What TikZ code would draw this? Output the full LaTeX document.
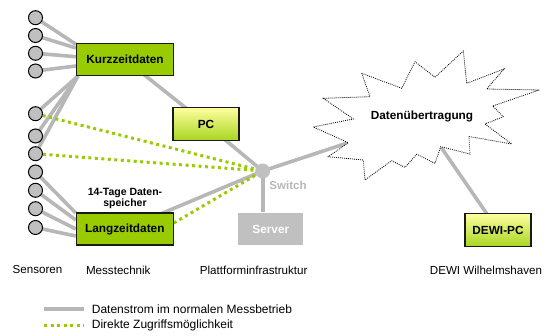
\documentclass[tikz,border=0pt]{standalone}
\usepackage{fontspec}
\setmainfont{Liberation Sans}
\usetikzlibrary{calc}
\pgfdeclarelayer{bg}
\pgfsetlayers{bg,main}
\definecolor{grn}{HTML}{99CC00}
\definecolor{lgray}{HTML}{B7B7B7}
\definecolor{fgray}{HTML}{C0C0C0}
\definecolor{pcTop}{HTML}{FFFFA0}
\definecolor{pcBot}{HTML}{A8D520}
\tikzset{
  box/.style={draw=black!90, line width=1.1pt, fill=grn, minimum width=97pt, minimum height=32pt, inner sep=0pt, font=\fontsize{11.8}{13}\selectfont\bfseries},
  pcbox/.style={box, top color=pcTop, bottom color=pcBot, minimum width=66pt, minimum height=33pt},
  sensor/.style={circle, draw=black, line width=1pt, fill=fgray, minimum size=14pt, inner sep=0pt},
  flow/.style={draw=lgray, line width=3.6pt},
  direct/.style={draw=grn, line width=3pt, dash pattern=on 3pt off 3.5pt},
  lbl/.style={font=\fontsize{11.6}{13}\selectfont, inner sep=0pt},
  lgd/.style={font=\fontsize{12}{14}\selectfont, inner sep=0pt, anchor=west},
  cloudline/.style={draw=black, line width=0.8pt, dash pattern=on 0.9pt off 1.1pt, fill=white}
}
\begin{document}
\begin{tikzpicture}[x=1pt,y=-1pt]
\useasboundingbox (0,0) rectangle (554,336);

% sensors
\foreach \i/\y in {1/17.7,2/35.5,3/53.3,4/71,5/113.7,6/136,7/153.7,8/172,9/190.3,10/208.7,11/227.5}
  \node[sensor] (s\i) at (35.5,\y) {};

% boxes
\node[box] (kz) at (125,59.5) {Kurzzeitdaten};
\node[box] (lz) at (124.8,229) {Langzeitdaten};
\node[pcbox] (pc) at (206,124) {PC};
\node[box, fill=fgray, draw=none, text=white, minimum width=65pt] (sv) at (270.8,229) {Server};
\node[pcbox] (dw) at (498,230) {DEWI-PC};
\node[circle, fill=fgray, minimum size=15pt, inner sep=0pt] (sw) at (262.7,171) {};
\node[font=\fontsize{11.5}{13}\selectfont\bfseries, text=lgray, inner sep=0pt] (swl) at (288,185) {Switch};
\node[font=\fontsize{10.5}{11.4}\selectfont\bfseries, align=center, inner sep=0pt] (note) at (125,198.5) {14-Tage Daten-\\speicher};

% cloud
\draw[cloudline] (361.7,73.3) -- (401.7,88.3) -- (415,61.7) -- (435,77.3) -- (463.3,51) -- (466.7,83.3)
  -- (504,69) -- (486.7,89) -- (539.3,90) -- (492.7,106) -- (503.3,116.7) -- (485,124) -- (511.7,144)
  -- (469,136.5) -- (470,154) -- (440.7,146.7) -- (435,163.3) -- (416.7,154.3) -- (405,167.3)
  -- (391.7,160.7) -- (365,180) -- (363.3,160) -- (328.3,156.7) -- (348.3,142.7) -- (313.3,127)
  -- (353.3,119) -- (323.3,98.3) -- (370,96.7) -- cycle;
\coordinate (cin) at (348.3,142.7);
\coordinate (cbot) at (440.7,146.7);
\node[font=\fontsize{11.8}{13}\selectfont\bfseries, inner sep=0pt] (cl) at (422,116.7) {Datenübertragung};

% connectors
\begin{pgfonlayer}{bg}
  \foreach \i/\dy in {1/-15.2,2/-11.5,3/-2.8,4/6.5}
    \draw[flow] (s\i.center) -- ($(kz.west)+(0,\dy)$);
  \foreach \i in {5,6,7}
    \draw[flow] (s\i.center) -- ($(kz.south west)+(2,0)$);
  \foreach \i/\dy in {8/-16,9/-9,10/0,11/7}
    \draw[flow] (s\i.center) -- ($(lz.west)+(0,\dy)$);
  \draw[flow] (kz.center) -- (pc.center) -- (sw.center);
  \draw[flow] (lz.center) -- (sw.center);
  \draw[flow] (sw.center) -- (sw.center |- sv.north);
  \draw[flow] (sw.center) -- (cin);
  \draw[flow] (cbot) -- (dw.center);
  \draw[direct] (s5) -- (sw);
  \draw[direct] (s7) -- (sw);
  \draw[direct] ($(lz.east)+(0,-6)$) -- (sw);
\end{pgfonlayer}

% labels
\node[lbl] (l1) at (37.5,270) {Sensoren};
\node[lbl] (l2) at (118.3,270) {Messtechnik};
\node[lbl] (l3) at (253.7,270) {Plattforminfrastruktur};
\node[lbl] (l4) at (486,270) {DEWI Wilhelmshaven};

% legend
\coordinate (la) at (44,309); \coordinate (lb) at (84,309);
\coordinate (lc) at (44,325.7); \coordinate (ld) at (84,325.7);
\draw[flow, line width=3.3pt] (la) -- (lb);
\draw[direct] (lc) -- (ld);
\node[lgd] (lt1) at (91.7,309) {Datenstrom im normalen Messbetrieb};
\node[lgd] (lt2) at (91.7,325.7) {Direkte Zugriffsmöglichkeit};
\end{tikzpicture}
\end{document}
